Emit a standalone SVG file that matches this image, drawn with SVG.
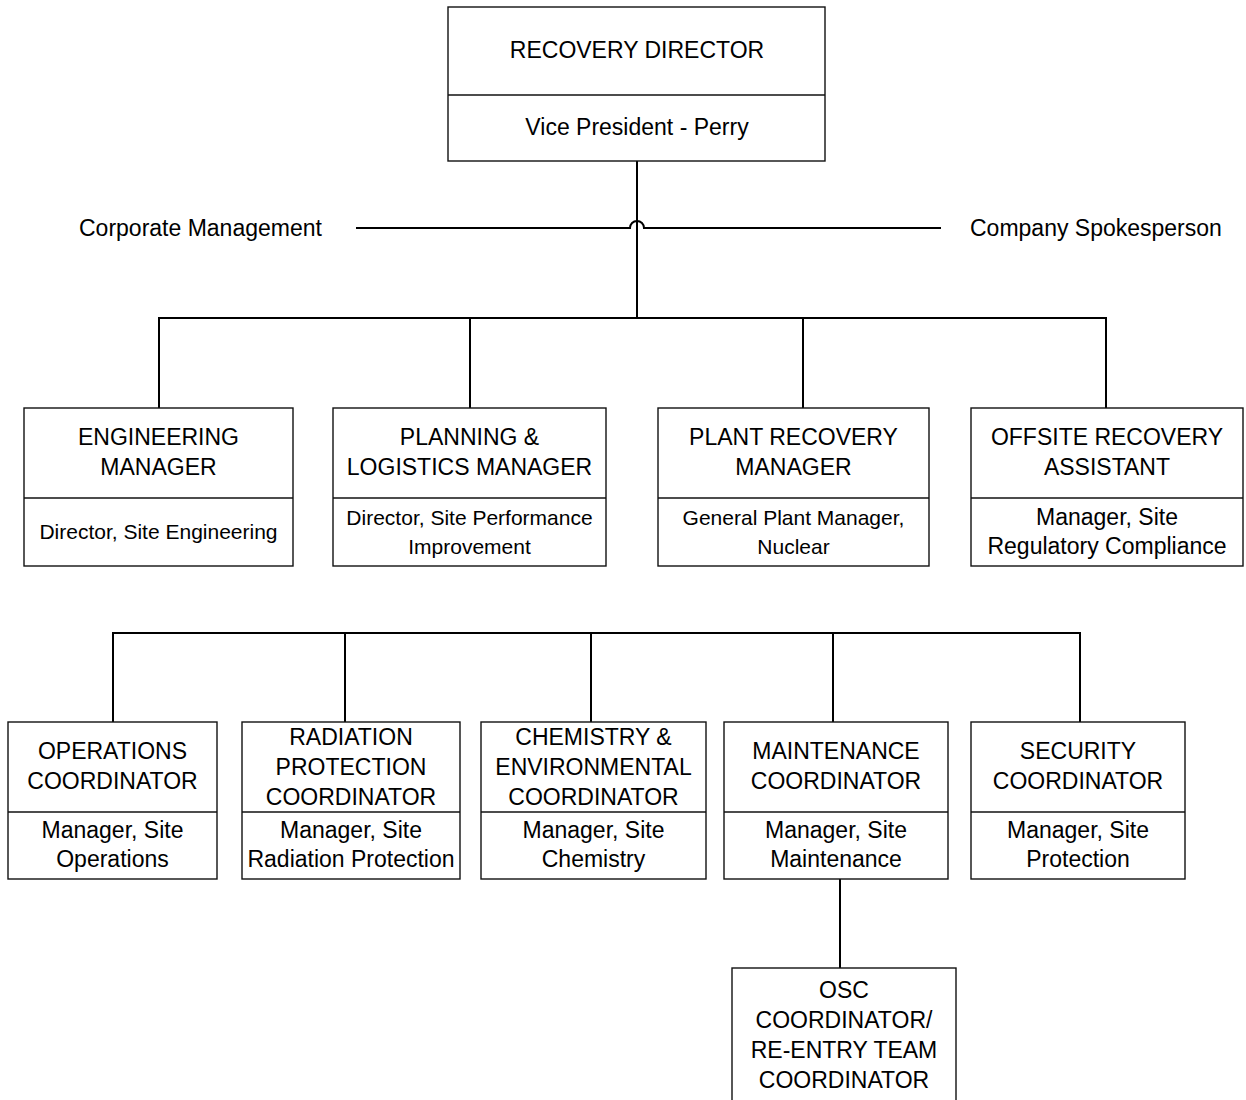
<svg xmlns="http://www.w3.org/2000/svg" width="1246" height="1100" viewBox="0 0 1246 1100">
<style>
.box{fill:#fff;stroke:#111;stroke-width:1.4}
.div{stroke:#111;stroke-width:1.4}
.con{fill:none;stroke:#000;stroke-width:2}
text{font-family:"Liberation Sans",Arial,sans-serif;font-size:23px;fill:#000;text-anchor:middle}
.s{font-size:21px}
.lbl{text-anchor:start}
</style>
<rect width="1246" height="1100" fill="#fff"/>
<g id="connectors">
<path class="con" d="M637 161 V318"/>
<path class="con" d="M356 228 H630 A7 7 0 0 1 644 228 H941"/>
<path class="con" d="M159 408 V318 H1106 V408 M470 318 V408 M803 318 V408"/>
<path class="con" d="M113 722 V633 H1080 V722 M345 633 V722 M591 633 V722 M833 633 V722"/>
<path class="con" d="M840 879 V968"/>
</g>
<g id="corporate-management"><text class="lbl" x="79" y="236">Corporate Management</text></g>
<g id="company-spokesperson"><text class="lbl" x="970" y="236">Company Spokesperson</text></g>
<g id="recovery-director">
<rect class="box" x="448" y="7" width="377" height="154"/>
<line class="div" x1="448" y1="95" x2="825" y2="95"/>
<text x="637" y="58">RECOVERY DIRECTOR</text>
<text x="637" y="135">Vice President - Perry</text>
</g>
<g id="engineering-manager">
<rect class="box" x="24" y="408" width="269" height="158"/>
<line class="div" x1="24" y1="498" x2="293" y2="498"/>
<text x="158.5" y="445">ENGINEERING</text>
<text x="158.5" y="475">MANAGER</text>
<text class="s" x="158.5" y="539">Director, Site Engineering</text>
</g>
<g id="planning-logistics-manager">
<rect class="box" x="333" y="408" width="273" height="158"/>
<line class="div" x1="333" y1="498" x2="606" y2="498"/>
<text x="469.5" y="445">PLANNING &amp;</text>
<text x="469.5" y="475">LOGISTICS MANAGER</text>
<text class="s" x="469.5" y="525">Director, Site Performance</text>
<text class="s" x="469.5" y="554">Improvement</text>
</g>
<g id="plant-recovery-manager">
<rect class="box" x="658" y="408" width="271" height="158"/>
<line class="div" x1="658" y1="498" x2="929" y2="498"/>
<text x="793.5" y="445">PLANT RECOVERY</text>
<text x="793.5" y="475">MANAGER</text>
<text class="s" x="793.5" y="525">General Plant Manager,</text>
<text class="s" x="793.5" y="554">Nuclear</text>
</g>
<g id="offsite-recovery-assistant">
<rect class="box" x="971" y="408" width="272" height="158"/>
<line class="div" x1="971" y1="498" x2="1243" y2="498"/>
<text x="1107" y="445">OFFSITE RECOVERY</text>
<text x="1107" y="475">ASSISTANT</text>
<text x="1107" y="525">Manager, Site</text>
<text x="1107" y="554">Regulatory Compliance</text>
</g>
<g id="operations-coordinator">
<rect class="box" x="8" y="722" width="209" height="157"/>
<line class="div" x1="8" y1="812" x2="217" y2="812"/>
<text x="112.5" y="759">OPERATIONS</text>
<text x="112.5" y="789">COORDINATOR</text>
<text x="112.5" y="838">Manager, Site</text>
<text x="112.5" y="867">Operations</text>
</g>
<g id="radiation-protection-coordinator">
<rect class="box" x="242" y="722" width="218" height="157"/>
<line class="div" x1="242" y1="812" x2="460" y2="812"/>
<text x="351" y="745">RADIATION</text>
<text x="351" y="775">PROTECTION</text>
<text x="351" y="805">COORDINATOR</text>
<text x="351" y="838">Manager, Site</text>
<text x="351" y="867">Radiation Protection</text>
</g>
<g id="chemistry-environmental-coordinator">
<rect class="box" x="481" y="722" width="225" height="157"/>
<line class="div" x1="481" y1="812" x2="706" y2="812"/>
<text x="593.5" y="745">CHEMISTRY &amp;</text>
<text x="593.5" y="775">ENVIRONMENTAL</text>
<text x="593.5" y="805">COORDINATOR</text>
<text x="593.5" y="838">Manager, Site</text>
<text x="593.5" y="867">Chemistry</text>
</g>
<g id="maintenance-coordinator">
<rect class="box" x="724" y="722" width="224" height="157"/>
<line class="div" x1="724" y1="812" x2="948" y2="812"/>
<text x="836" y="759">MAINTENANCE</text>
<text x="836" y="789">COORDINATOR</text>
<text x="836" y="838">Manager, Site</text>
<text x="836" y="867">Maintenance</text>
</g>
<g id="security-coordinator">
<rect class="box" x="971" y="722" width="214" height="157"/>
<line class="div" x1="971" y1="812" x2="1185" y2="812"/>
<text x="1078" y="759">SECURITY</text>
<text x="1078" y="789">COORDINATOR</text>
<text x="1078" y="838">Manager, Site</text>
<text x="1078" y="867">Protection</text>
</g>
<g id="osc-coordinator">
<rect class="box" x="732" y="968" width="224" height="140"/>
<text x="844" y="998">OSC</text>
<text x="844" y="1028">COORDINATOR/</text>
<text x="844" y="1058">RE-ENTRY TEAM</text>
<text x="844" y="1088">COORDINATOR</text>
</g>
</svg>
